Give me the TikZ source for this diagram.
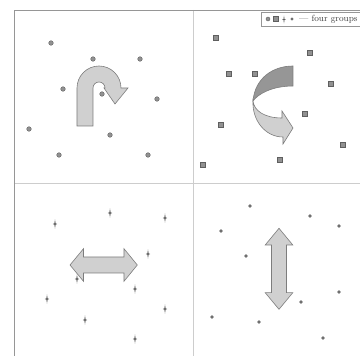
\documentclass[tikz,border=0pt]{standalone}
\usepackage{tikz}
\usetikzlibrary{calc}
\definecolor{quadline}{RGB}{205,205,205}
\definecolor{frameline}{RGB}{150,150,150}
\definecolor{shapefill}{RGB}{208,208,208}
\definecolor{shapeedge}{RGB}{125,125,125}
\definecolor{ribbondark}{RGB}{150,150,150}
\definecolor{markfill}{RGB}{145,145,145}
\definecolor{markedge}{RGB}{95,95,95}

\begin{document}
\begin{tikzpicture}[
        x=1pt, y=-1pt,
        grid/.style={
            draw=quadline,
            line width=0.7pt
        },
        outer/.style={
            draw=frameline,
            line width=1.2pt
        },
        arrowshape/.style={
            fill=shapefill,
            draw=shapeedge,
            line width=0.6pt,
            line join=miter
        },
        dotmark/.style={
            circle,
            inner sep=0pt,
            minimum size=4.6pt,
            fill=markfill,
            draw=markedge,
            line width=0.4pt
        },
        boxmark/.style={
            rectangle,
            inner sep=0pt,
            minimum size=5.2pt,
            fill=markfill,
            draw=markedge,
            line width=0.5pt
        },
        gemmark/.style={
            circle,
            inner sep=0pt,
            minimum size=3.6pt,
            fill=markedge!90
        },
        sparkle/.pic={
            \fill[markedge] (0,-4.6) -- (0.6,-0.7) -- (2.1,0) -- (0.6,0.7)
                -- (0,4.6) -- (-0.6,0.7) -- (-2.1,0) -- (-0.6,-0.7) -- cycle;
        },
        keytext/.style={
            anchor=west,
            inner sep=0pt,
            font=\fontsize{9}{10}\selectfont,
            text=black!75
        }
    ]

    \useasboundingbox (0,0) rectangle (360,356);
    \clip (0,0) rectangle (360,356);

    % quadrants
    \draw[grid] (193,10) -- (193,370);
    \draw[grid] (14,183) -- (370,183);
    \draw[outer] (14.6,10.6) rectangle (380,380);

    % key
    \draw[draw=frameline, line width=0.6pt, fill=white] (261,12) rectangle (380,26.5);
    \node[dotmark, minimum size=4pt] (keydot) at (268,19) {};
    \node[boxmark, minimum size=4.6pt] (keybox) at (276,19) {};
    \pic[scale=0.85] (keystar) at (284,19.5) {sparkle};
    \node[gemmark, minimum size=3.4pt] (keygem) at (292,19) {};
    \node[keytext] (keylabel) at (299,19.5) {--- four groups};

    % u-turn
    \coordinate (turn) at (99,88);
    \draw[arrowshape] (77,126) -- (77,88) arc[start angle=180, end angle=360, radius=22]
        -- ($(turn)+(29,0)$) -- ($(turn)+(16,16)$) -- ($(turn)+(5,0)$)
        -- ($(turn)+(6,0)$) arc[start angle=360, end angle=180, radius=6]
        -- (93,126) -- cycle;

    % twisted ribbon
    \draw[arrowshape] (253,101) .. controls (254,111) and (265,118) .. (282,118)
        -- (282,111) -- (293,128) -- (283,144) -- (283,137)
        .. controls (265,137) and (252,120) .. (253,101) -- cycle;
    \draw[arrowshape, fill=ribbondark] (293,66) .. controls (273,66) and (255,78) .. (253,101)
        .. controls (258,94) and (272,86) .. (293,86) -- cycle;

    % left-right
    \draw[arrowshape] (70,265) -- (83.5,248.7) -- (83.5,257) -- (124,257) -- (124,248.7)
        -- (137.3,265) -- (124,281.3) -- (124,273) -- (83.5,273) -- (83.5,281.3) -- cycle;

    % up-down
    \draw[arrowshape] (279,228.3) -- (292.8,245) -- (286.5,245) -- (286.5,292.7) -- (292.8,292.7)
        -- (279,309.3) -- (265.2,292.7) -- (271.5,292.7) -- (271.5,245) -- (265.2,245) -- cycle;

    % groups
    \foreach \p [count=\i] in {(51,43),(93,59),(140,59),(63,89),(102,94),
                               (157,99),(29,129),(110,135),(59,155),(148,155)}
        \node[dotmark] (dot\i) at \p {};
    \foreach \p [count=\i] in {(216,38),(310,53),(229,74),(255,74),(331,84),
                               (305,114),(221,125),(343,145),(203,165),(280,160)}
        \node[boxmark] (box\i) at \p {};
    \foreach \p [count=\i] in {(55,224),(110,213),(165,218),(148,254),(77,279),
                               (135,289),(47,299),(85,320),(165,309),(135,339)}
        \pic (star\i) at \p {sparkle};
    \foreach \p [count=\i] in {(250,206),(310,216),(339,226),(221,231),(246,256),
                               (339,292),(301,302),(212,317),(259,322),(323,338)}
        \node[gemmark] (gem\i) at \p {};

\end{tikzpicture}
\end{document}
